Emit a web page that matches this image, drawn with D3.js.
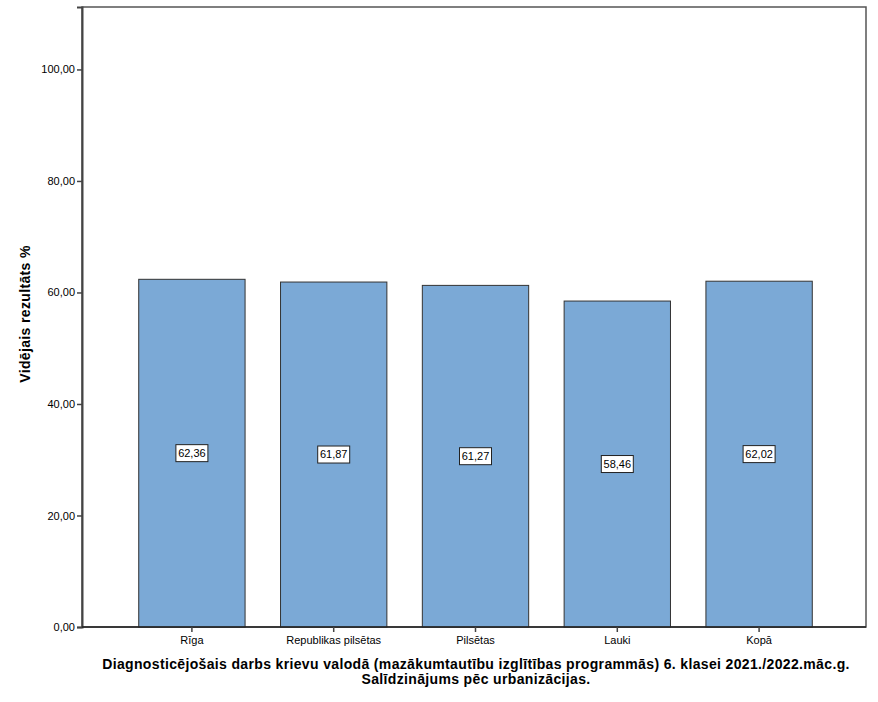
<!DOCTYPE html>
<html><head><meta charset="utf-8">
<script src="https://cdn.jsdelivr.net/npm/d3@7"></script>
<style>body{margin:0;background:#fff;} text{font-family:Arial,"Liberation Sans",sans-serif;}</style>
</head><body>
<svg id="chart" width="878" height="702"></svg>
<script>
const categories = ["Rīga", "Republikas pilsētas", "Pilsētas", "Lauki", "Kopā"];
const values = [62.36, 61.87, 61.27, 58.46, 62.02];
const valueLabels = ["62,36", "61,87", "61,27", "58,46", "62,02"];
const yTicks = [0, 20, 40, 60, 80, 100];
const yTickLabels = ["0,00", "20,00", "40,00", "60,00", "80,00", "100,00"];
const yTitle = "Vidējais rezultāts %";
const titleLines = ["Diagnosticējošais darbs krievu valodā (mazākumtautību izglītības programmās) 6. klasei 2021./2022.māc.g.", "Salīdzinājums pēc urbanizācijas."];

const svg = d3.select("#chart");
const L = 82, R = 866, T = 7, B = 627;
const y = d3.scaleLinear().domain([0, 111.2]).range([B, T]);
const x = d3.scaleBand().domain(categories).range([121, 830]).paddingInner(0.25).paddingOuter(0.125);

// frame
svg.append("rect").attr("x", L).attr("y", T).attr("width", R - L).attr("height", B - T)
  .attr("fill", "none").attr("stroke", "#555").attr("stroke-width", 1.5);

// bars
svg.selectAll("rect.bar").data(values).enter().append("rect").attr("class", "bar")
  .attr("x", (d, i) => x(categories[i]))
  .attr("y", d => y(d))
  .attr("width", x.bandwidth())
  .attr("height", d => B - y(d))
  .attr("fill", "#7BA9D6").attr("stroke", "#333").attr("stroke-width", 1);

// y axis
const yAxis = d3.axisLeft(y).tickValues(yTicks).tickFormat((d, i) => yTickLabels[i]).tickSize(5).tickPadding(2);
const gy = svg.append("g").attr("transform", `translate(${L},0)`).call(yAxis);
gy.select(".domain").attr("stroke", "#444").attr("stroke-width", 2);
gy.selectAll(".tick line").attr("stroke", "#444").attr("stroke-width", 1.5);
gy.selectAll(".tick text").attr("font-size", 11).attr("fill", "#000").attr("font-family", "Arial, 'Liberation Sans', sans-serif");

// x axis
const xAxis = d3.axisBottom(x).tickSize(5).tickPadding(4);
const gx = svg.append("g").attr("transform", `translate(0,${B})`).call(xAxis);
gx.select(".domain").attr("stroke", "#222").attr("stroke-width", 1.5).attr("d", `M${L},0H${R}`);
gx.selectAll(".tick line").attr("stroke", "#444").attr("stroke-width", 1.5);
gx.selectAll(".tick text").attr("font-size", 11).attr("fill", "#000").attr("font-family", "Arial, 'Liberation Sans', sans-serif");

// value labels
const lg = svg.selectAll("g.vl").data(values).enter().append("g").attr("class", "vl")
  .attr("transform", (d, i) => `translate(${x(categories[i]) + x.bandwidth() / 2},${y(d / 2)})`);
lg.append("rect").attr("x", -16).attr("y", -8.5).attr("width", 32).attr("height", 17)
  .attr("fill", "#fff").attr("stroke", "#222").attr("stroke-width", 1);
lg.append("text").attr("text-anchor", "middle").attr("dy", "0.36em").attr("font-size", 11)
  .text((d, i) => valueLabels[i]);

// y title
svg.append("text").attr("transform", `translate(30,${(T + B) / 2 - 3}) rotate(-90)`)
  .attr("text-anchor", "middle").attr("font-size", 14).attr("font-weight", "bold")
  .attr("letter-spacing", 0.35).text(yTitle);

// title
svg.selectAll("text.title").data(titleLines).enter().append("text").attr("class", "title")
  .attr("x", 476).attr("y", (d, i) => 669 + i * 15)
  .attr("text-anchor", "middle").attr("font-size", 14).attr("font-weight", "bold")
  .attr("letter-spacing", 0.35).text(d => d);
</script>
</body></html>
